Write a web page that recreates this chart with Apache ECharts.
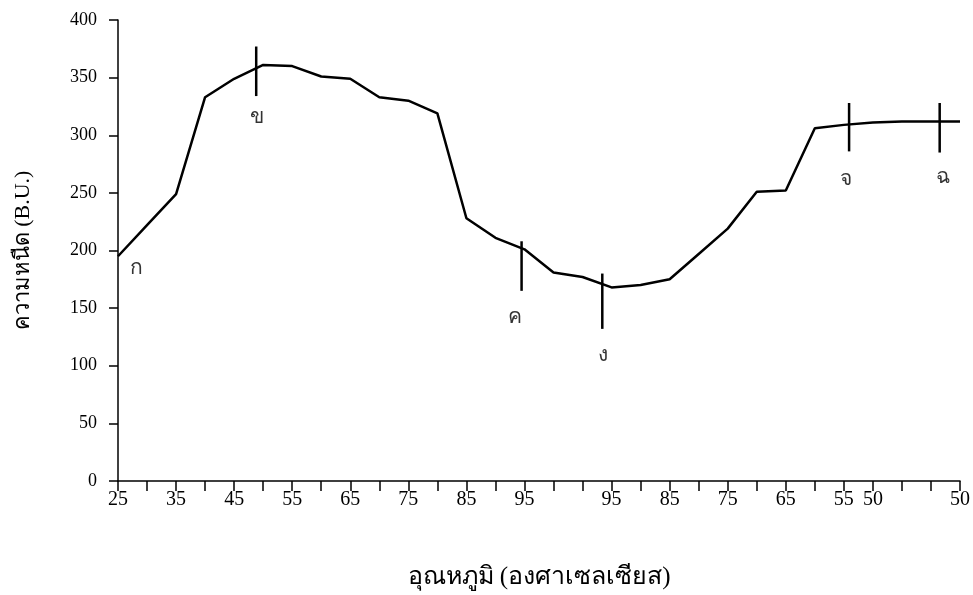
<!DOCTYPE html>
<html>
<head>
<meta charset="utf-8">
<script src="https://cdn.jsdelivr.net/npm/echarts@6/dist/echarts.min.js"></script>
<style>
  html, body { margin: 0; padding: 0; background: #fff; }
  #chart { width: 973px; height: 595px; }
</style>
</head>
<body>
<div id="chart"></div>
<script>
// Reading index along the time axis (one tick per reading)
const timeIdx = [0, 1, 2, 3, 4, 5, 6, 7, 8, 9, 10, 11, 12, 13, 14, 15, 16, 17, 18, 19, 20, 21, 22, 23, 24, 25, 26, 27, 28, 29];
// Viscosity in Brabender units at each reading
const viscosity = [195, 222, 249, 333, 349, 361, 360, 351, 349, 333, 330, 319, 228, 211, 201, 181, 177, 168, 170, 175, 197, 219, 251, 252, 306, 309, 311, 312, 312, 312];
// Temperature shown under each tick (blank where unlabeled)
const tickLabels = ['25', '', '35', '', '45', '', '55', '', '65', '', '75', '', '85', '', '95', '', '', '95', '', '85', '', '75', '', '65', '', '55', '50', '', '', '50'];
const yTicks = [0, 50, 100, 150, 200, 250, 300, 350, 400];

// Stage markers: vertical strokes crossing the curve
const markerX = [4.76, 13.9, 16.68, 25.18, 28.3];
const markerTop = [377, 208, 180, 328, 328];
const markerBottom = [334, 165, 132, 286, 285];

// Stage letters and where they sit
const pointNames = ['ก', 'ข', 'ค', 'ง', 'จ', 'ฉ'];
const pointX = [0.64, 4.8, 13.69, 16.71, 25.07, 28.43];
const pointY = [184, 315, 142, 109, 262, 263];

const FONT = "'Liberation Serif', 'DejaVu Serif', serif";

const chart = echarts.init(document.getElementById('chart'), null, { renderer: 'canvas' });

chart.setOption({
  backgroundColor: '#ffffff',
  animation: false,
  grid: { left: 118, right: 13, top: 20, bottom: 112, containLabel: false },
  xAxis: {
    type: 'value',
    min: 0,
    max: timeIdx.length - 1,
    interval: 1,
    name: 'อุณหภูมิ (องศาเซลเซียส)',
    nameLocation: 'middle',
    nameGap: 84,
    nameTextStyle: { fontFamily: FONT, fontSize: 25, color: '#000' },
    axisLine: { lineStyle: { color: '#000', width: 1.5 } },
    axisTick: { show: true, inside: false, length: 10, lineStyle: { color: '#000', width: 1.5 } },
    axisLabel: {
      fontFamily: FONT, fontSize: 20, color: '#000', margin: 9,
      formatter: v => tickLabels[Math.round(v)] || ''
    },
    splitLine: { show: false }
  },
  yAxis: {
    type: 'value',
    min: yTicks[0],
    max: yTicks[yTicks.length - 1],
    interval: yTicks[1] - yTicks[0],
    name: 'ความหนืด (B.U.)',
    nameLocation: 'middle',
    nameGap: 84,
    nameRotate: 90,
    nameTextStyle: { fontFamily: FONT, fontSize: 22, color: '#000' },
    axisLine: { show: true, lineStyle: { color: '#000', width: 1.5 } },
    axisTick: { show: true, inside: false, length: 9, lineStyle: { color: '#000', width: 1.5 } },
    axisLabel: { fontFamily: FONT, fontSize: 18, color: '#000', margin: 21 },
    splitLine: { show: false }
  },
  series: [
    {
      type: 'line',
      data: timeIdx.map((t, i) => [t, viscosity[i]]),
      symbol: 'none',
      lineStyle: { color: '#000', width: 2.5 },
      z: 3
    },
    {
      type: 'custom',
      data: markerX.map((x, i) => [x, markerTop[i], markerBottom[i]]),
      renderItem: (params, api) => {
        const p1 = api.coord([api.value(0), api.value(1)]);
        const p2 = api.coord([api.value(0), api.value(2)]);
        return {
          type: 'line',
          shape: { x1: p1[0], y1: p1[1], x2: p2[0], y2: p2[1] },
          style: { stroke: '#000', lineWidth: 2.5 }
        };
      },
      z: 4
    },
    {
      type: 'scatter',
      data: pointX.map((x, i) => ({ value: [x, pointY[i]], name: pointNames[i] })),
      symbolSize: 0,
      label: {
        show: true,
        position: 'inside',
        formatter: p => p.name,
        fontFamily: FONT,
        fontSize: 21,
        color: '#000'
      },
      z: 5
    }
  ]
});
</script>
</body>
</html>
